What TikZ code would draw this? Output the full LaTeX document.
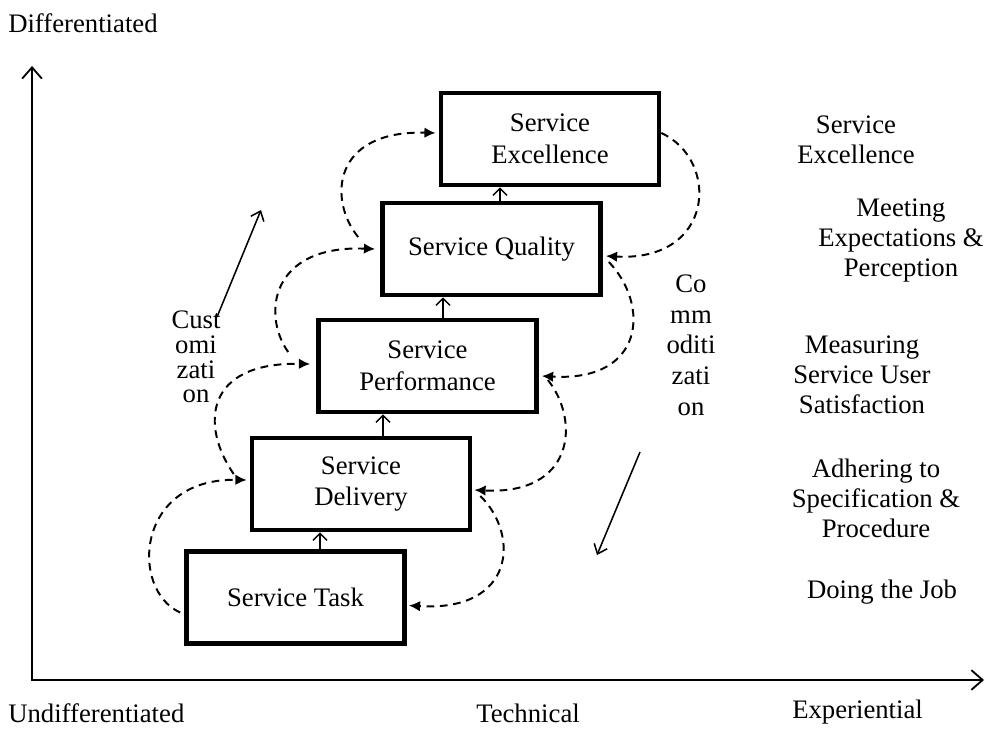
\documentclass[tikz,border=0pt]{standalone}
\usepackage{fontspec}
\setmainfont{Liberation Serif}
\usepackage{tikz}
\usetikzlibrary{positioning,arrows.meta,calc}

\begin{document}
\begin{tikzpicture}[x=0.025cm, y=-0.025cm,
    stage/.style={draw, line width=3.3pt, minimum width=5.45cm, minimum height=2.3cm, align=center, font=\fontsize{19}{22.5}\selectfont},
    lbl/.style={align=center, inner sep=0pt, font=\fontsize{19}{21.3}\selectfont},
    swirl/.style={line width=1.4pt, dash pattern=on 5.5pt off 4pt, -{Latex[length=8pt,width=7.5pt]}},
    climb/.style={line width=1pt, -{Straight Barb[length=5pt,width=10pt]}},
    axis/.style={line width=1.3pt, {Straight Barb[length=8pt,width=14pt]}-{Straight Barb[length=8pt,width=14pt]}},
    trend/.style={line width=1.1pt, -{Straight Barb[length=6pt,width=10pt]}}]
    \useasboundingbox (0,0) rectangle (985,729);

    % axes
    \coordinate (ytop) at (32,66);
    \coordinate (origin) at (32,680);
    \coordinate (xend) at (984,680);
    \draw[axis] (ytop) -- (origin) -- (xend);
    \node[lbl, anchor=base west] (ydiff) at (8,33) {Differentiated};
    \node[lbl, anchor=base west] (xundiff) at (8,722) {Undifferentiated};
    \node[lbl, anchor=base west] (xtech) at (476,722) {Technical};
    \node[lbl, anchor=base west] (xexp) at (792,718) {Experiential};

    % the five steps
    \node[stage] (task) at (295.5,597.5) {Service Task};
    \node[stage] (delivery) at (361,484) {Service\\Delivery};
    \node[stage] (perf) at (427.5,366) {Service\\Performance};
    \node[stage] (quality) at (491.5,249) {Service Quality};
    \node[stage] (excel) at (550,139) {Service\\Excellence};
    \foreach \lo/\hi/\x in {task/delivery/320, delivery/perf/383, perf/quality/443, quality/excel/500}
        \draw[climb] (\lo.north -| \x,0) -- (\hi.south -| \x,0);

    % customization loops (left, going up)
    \draw[swirl] ($(task.west)+(-4,15)$) .. controls (130,590) and (135,478) .. ($(delivery.west)+(-3,-4)$);
    \draw[swirl] ($(delivery.west)+(-16,-10)$) .. controls (200,425) and (205,362) .. ($(perf.west)+(-6,-2)$);
    \draw[swirl] ($(perf.west)+(-28,-14)$) .. controls (262,315) and (270,245) .. ($(quality.west)+(-5,0)$);
    \draw[swirl] ($(quality.west)+(-22,-12)$) .. controls (328,200) and (332,130) .. ($(excel.west)+(-3,-6)$);

    % commoditization loops (right, going down)
    \draw[swirl] ($(excel.east)+(0,-6)$) .. controls (720,160) and (715,262) .. ($(quality.east)+(3,7)$);
    \draw[swirl] ($(quality.east)+(6,13)$) .. controls (650,305) and (645,382) .. ($(perf.east)+(3,10)$);
    \draw[swirl] ($(perf.east)+(9,14)$) .. controls (580,420) and (575,495) .. ($(delivery.east)+(2,6)$);
    \draw[swirl] ($(delivery.east)+(8,12)$) .. controls (520,535) and (515,612) .. ($(task.east)+(2,8)$);

    % trends
    \node[lbl, font=\fontsize{19}{17.5}\selectfont] (cust) at (196,357) {Cust\\omi\\zati\\on};
    \coordinate (custfrom) at (217,317);
    \coordinate (custto) at (261,210);
    \draw[trend] (custfrom) -- (custto);
    \node[lbl, font=\fontsize{19}{21.8}\selectfont] (commod) at (691,345) {Co\\mm\\oditi\\zati\\on};
    \coordinate (comfrom) at (640,452);
    \coordinate (comto) at (597,555);
    \draw[trend] (comfrom) -- (comto);

    % levels on the right
    \node[lbl] (lvlfive) at (856,139.5) {Service\\Excellence};
    \node[lbl] (lvlfour) at (901,240.5) {Meeting\\Expectations \&\\Perception};
    \node[lbl] (lvlthree) at (862,375) {Measuring\\Service User\\Satisfaction};
    \node[lbl] (lvltwo) at (876,498.5) {Adhering to\\Specification \&\\Procedure};
    \node[lbl] (lvlone) at (882,592.5) {Doing the Job};
\end{tikzpicture}
\end{document}
